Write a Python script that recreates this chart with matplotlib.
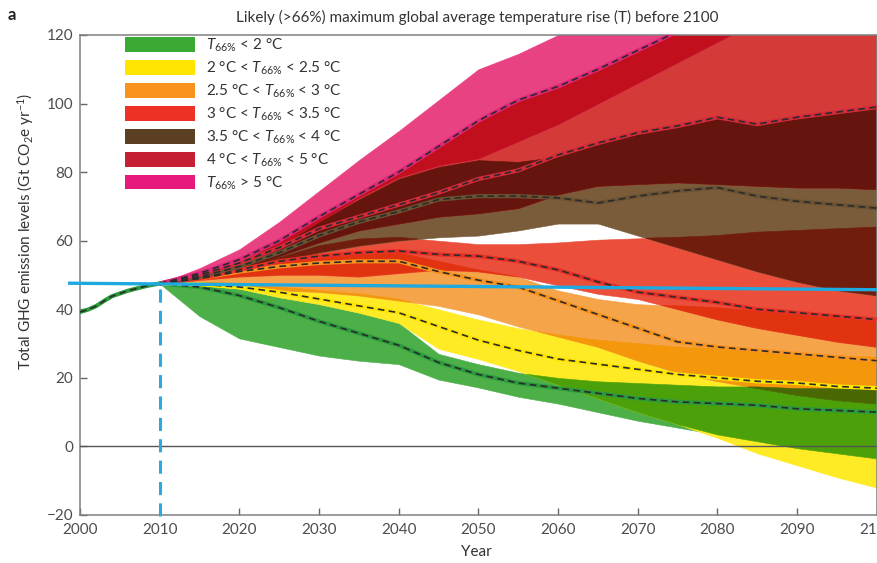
import numpy as np
import matplotlib
matplotlib.use('Agg')
import matplotlib.pyplot as plt
from matplotlib.colors import to_rgb
from matplotlib.patches import Patch
from itertools import combinations

plt.rcParams['font.family'] = ['Lato', 'DejaVu Sans']
plt.rcParams['mathtext.fontset'] = 'custom'
plt.rcParams['mathtext.rm'] = 'Lato'
plt.rcParams['mathtext.it'] = 'Lato:italic'

# data (Gt CO2e / yr)
years = [2010, 2015, 2020, 2025, 2030, 2035, 2040, 2045, 2050, 2055,
         2060, 2065, 2070, 2075, 2080, 2085, 2090, 2095, 2100]

hist_years = [2000, 2001, 2002, 2003, 2004, 2005, 2006, 2007, 2008, 2009, 2010]
hist_ghg = [39.2, 39.9, 40.9, 42.4, 43.8, 44.6, 45.4, 46.0, 46.6, 47.1, 47.5]

green_lo = [47.5, 38, 31.5, 29, 26.5, 25, 24, 19.5, 17.2, 14.5, 12.5, 10, 7.5, 5.5, 3.5, 1.5, -0.5, -2, -3.5]
green_mid = [47.5, 46.5, 44, 40.5, 36.5, 33, 29.5, 24.5, 21, 18.5, 17, 15.5, 14, 13, 12.5, 12, 11, 10.5, 10]
green_hi = [47.5, 47, 46, 43.5, 41.5, 39, 36, 27, 24, 21.5, 20, 19, 18.5, 18, 17.5, 17.5, 17, 17, 17]

yellow_lo = [47.5, 47, 46, 43.5, 41.5, 39, 36, 28.5, 25.5, 22, 18, 14, 10, 6.5, 2.5, -2, -5.5, -9, -12]
yellow_mid = [47.5, 47.3, 46.5, 45, 43, 41, 39, 35, 31, 28, 25.5, 24, 22.5, 21, 20, 19, 18.5, 17.5, 17]
yellow_hi = [47.5, 47.8, 47.5, 46.5, 45.5, 44.5, 43, 40, 37, 34.5, 32.5, 31, 30, 29, 28.5, 28, 27, 26.5, 26]

orange_lo = [47.5, 47.5, 46.5, 45.5, 45, 44, 42.5, 41, 38.5, 35, 32, 29, 25, 21.5, 19, 17, 15, 13.5, 12.5]
orange_mid = [47.5, 49, 51, 52.5, 53.5, 54, 54, 51, 48.5, 46.5, 42.5, 38.5, 34.5, 30.5, 29, 28, 27, 26, 25]
orange_hi = [47.5, 49.5, 52.5, 54.5, 56, 56.5, 56.5, 54, 51.5, 49.5, 45.5, 43, 41.5, 41, 40.5, 39.5, 38.5, 37.5, 37]

red_lo = [47.5, 48.5, 49.5, 50, 50, 49.5, 50.5, 51.5, 51, 49.5, 47, 44.5, 43, 40, 37, 34.5, 32.5, 30.5, 29]
red_mid = [47.5, 49, 51.5, 54, 55.5, 56.5, 57, 56, 55.5, 54, 51.5, 48, 45, 43.5, 42, 40, 39, 38, 37]
red_hi = [47.5, 49.5, 52, 55, 58.5, 60.5, 61, 60, 59, 59, 59.5, 60.3, 60.7, 61, 61.5, 62.5, 63, 63.5, 64]

brown_lo = [47.5, 49, 51, 54, 56.5, 58.5, 60, 61, 61.5, 63, 65, 65, 61.5, 58, 54.5, 51, 48, 45.5, 44]
brown_mid = [47.5, 49.5, 52.5, 56.5, 61.5, 65.5, 68.5, 72, 73, 73, 72.5, 71, 73, 74.5, 75.5, 73, 71.5, 70.5, 69.5]
brown_hi = [47.5, 50, 53.5, 58.5, 65.5, 72, 78, 81.5, 83.5, 83, 84.5, 88, 91, 93, 95.5, 94, 95.5, 97, 98.5]

darkred_lo = [47.5, 49.5, 52, 55.5, 59.5, 63, 65, 67, 68, 69.5, 73.5, 76, 76.5, 77, 76.5, 76, 75.5, 75.5, 75]
darkred_mid = [47.5, 50, 53.5, 58, 63.5, 67, 70.5, 74, 78, 80.5, 85, 88.5, 91.5, 93.5, 96, 94, 96, 97.5, 99]
darkred_hi = [47.5, 50.5, 54.5, 60, 67, 73.5, 80, 87.5, 95, 101, 105, 110, 115.5, 121, 126, 131, 136, 140, 145]

pink_lo = [47.5, 50, 53.5, 58.5, 65.5, 72.5, 78.5, 82, 84, 89, 94, 100, 106, 112, 118, 124, 130, 135, 140]
pink_mid = [47.5, 50.5, 54.5, 60, 67, 73.5, 80, 87.5, 95, 101, 105, 110, 115.5, 121, 126, 131, 136, 140, 145]
pink_hi = [47.5, 52, 57.5, 65.5, 74.5, 83.5, 92, 101, 110, 114.5, 120, 125, 130, 135, 140, 145, 150, 155, 160]

# 2010 reference level and cut-off
ref_years = [1998.7, 2100.2]
ref_level = [47.6, 45.7]
cut_years = [2010, 2010]
cut_level = [46.0, -22.0]

labels = ['$T_{66\\%}$ < 2 °C',
          '2 °C < $T_{66\\%}$ < 2.5 °C',
          '2.5 °C < $T_{66\\%}$ < 3 °C',
          '3 °C < $T_{66\\%}$ < 3.5 °C',
          '3.5 °C < $T_{66\\%}$ < 4 °C',
          '4 °C < $T_{66\\%}$ < 5 °C',
          '$T_{66\\%}$ > 5 °C']

band_colors = ['#4caf48', '#feeb25', '#f5a449', '#eb4f3c', '#7a5c3b', '#d33a38', '#e94283']
legend_colors = ['#3aaa35', '#ffe500', '#f7931e', '#ed3124', '#5a3f23', '#c51f33', '#e8197c']
median_colors = ['#2a9a3c', '#ffe500', '#f7931e', '#e63027', '#6a5232', '#d42a3a', '#e0287a']

bands = [(green_lo, green_hi), (yellow_lo, yellow_hi), (orange_lo, orange_hi),
         (red_lo, red_hi), (brown_lo, brown_hi), (darkred_lo, darkred_hi),
         (pink_lo, pink_hi)]
medians = [green_mid, yellow_mid, orange_mid, red_mid, brown_mid, darkred_mid, pink_mid]

fig = plt.figure(figsize=(8.78, 5.63), dpi=100)
ax = fig.add_axes([80 / 878, 48 / 563, 796.7 / 878, 480 / 563])

# overlapping ranges look multiplied, so draw every intersection with the product colour
x = np.array(years)
for k in range(1, len(bands) + 1):
    for combo in combinations(range(len(bands)), k):
        lo = np.max([bands[i][0] for i in combo], axis=0)
        hi = np.min([bands[i][1] for i in combo], axis=0)
        if not np.any(hi > lo):
            continue
        col = np.prod([to_rgb(band_colors[i]) for i in combo], axis=0)
        ax.fill_between(x, lo, hi, where=hi > lo, interpolate=True,
                        facecolor=col, edgecolor=col, lw=0.4, zorder=1 + k * 0.01)

for mid, c in zip(medians, median_colors):
    ax.plot(years, mid, color=c, lw=3, solid_capstyle='butt', zorder=3)
    ax.plot(years, mid, color='#2b2b2b', lw=1.2, ls=(0, (4, 2.6)), zorder=3.1)

ax.plot(hist_years, hist_ghg, color='#2a9a3c', lw=3, zorder=3)
ax.plot(hist_years, hist_ghg, color='#2b2b2b', lw=1.2, ls=(0, (4, 2.6)), zorder=3.1)

ax.axhline(0, color='#555555', lw=1.0, zorder=4)
ax.plot(ref_years, ref_level, color='#1fa9e1', lw=2.4, clip_on=False, zorder=10)
ax.plot(cut_years, cut_level, color='#29abe2', lw=2.2, ls=(0, (4.3, 2.7)),
        clip_on=False, zorder=10)

ax.set_xlim(2000, 2100)
ax.set_ylim(-20, 120)
ax.set_xticks(range(2000, 2101, 10))
ax.set_yticks(range(-20, 121, 20))
ax.tick_params(direction='in', length=5, width=1, color='#666666',
               labelsize=11, labelcolor='#4d4d4d')
ax.tick_params(axis='x', pad=6)
ax.tick_params(axis='y', pad=5)
for s in ax.spines.values():
    s.set_color('#808080')
    s.set_linewidth(1.1)

ax.set_ylabel('Total GHG emission levels (Gt CO$_2$e yr$^{-1}$)', fontsize=11, color='#333333')
ax.yaxis.set_label_coords(-0.055, 0.59)
ax.set_xlabel('Year', fontsize=11, color='#333333')
ax.xaxis.set_label_coords(0.497, -0.062)

handles = [Patch(facecolor=c, edgecolor='none') for c in legend_colors]
ax.legend(handles, labels, loc='upper left', bbox_to_anchor=(0.0565, 0.996),
          frameon=False, fontsize=11, handlelength=4.6, handleheight=1.1,
          labelspacing=0.36, handletextpad=0.7, borderpad=0, borderaxespad=0,
          labelcolor='#333333')

fig.text(477 / 878, 1 - 17 / 563,
         'Likely (>66%) maximum global average temperature rise (T) before 2100',
         ha='center', va='center', fontsize=11, color='#333333')
fig.text(12 / 878, 1 - 15 / 563, 'a', ha='center', va='center',
         fontsize=12, fontweight='bold', color='#222222')

fig.savefig('out.png', dpi=100)
